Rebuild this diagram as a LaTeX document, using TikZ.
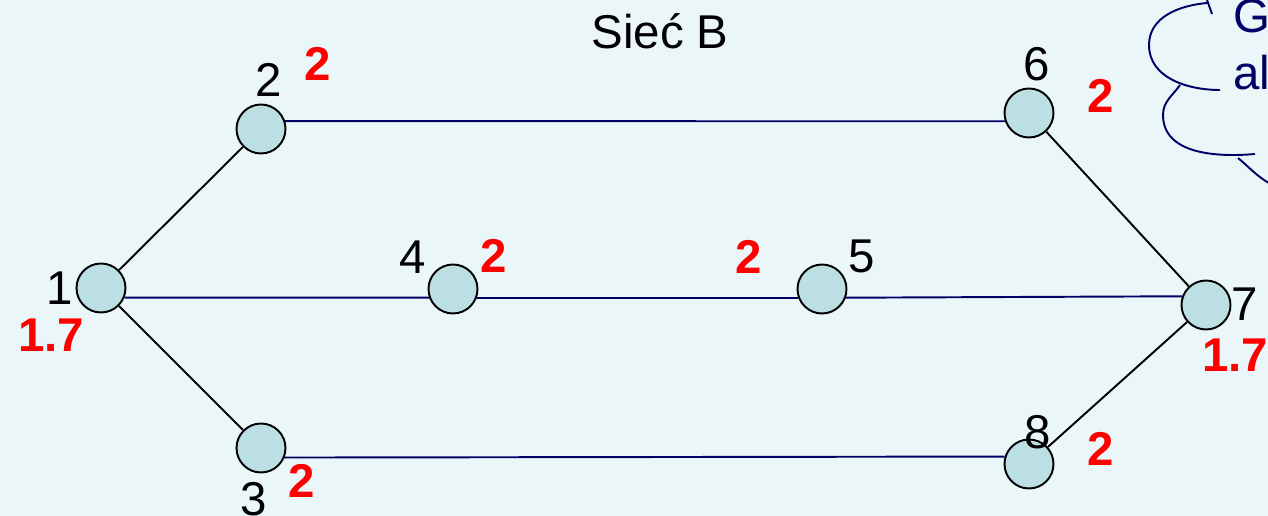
\documentclass[tikz,border=0pt]{standalone}
\usepackage{fontspec}
\setmainfont{Liberation Sans}
\definecolor{bgcol}{RGB}{234,246,247}
\definecolor{nodefill}{RGB}{187,223,227}
\definecolor{navy}{RGB}{0,0,102}
\begin{document}
\begin{tikzpicture}
        [x=0.02cm, y=-0.02cm,
        node/.style={circle,draw,minimum size=0.98cm, inner sep=0pt, line width=1.1pt, fill=nodefill},
        num/.style={inner sep=0pt, font=\fontsize{27}{31}\selectfont},
        wgt/.style={inner sep=0pt, text=red, font=\fontsize{27}{31}\selectfont\bfseries}]
        \useasboundingbox (0,0) rectangle (1268,516);
        \clip (0,0) rectangle (1268,516);
        \fill[bgcol] (0,0) rectangle (1268,516);

        \node[num, anchor=base] (title) at (660,49) {Sieć B};

        \node[node] (n1) at (101,288) {};
        \node[node] (n2) at (261,129) {};
        \node[node] (n3) at (261,448) {};
        \node[node] (n4) at (453,289) {};
        \node[node] (n5) at (822,289) {};
        \node[node] (n6) at (1029,113) {};
        \node[node] (n7) at (1206,305) {};
        \node[node] (n8) at (1029,464) {};

        % vertex numbers
        \node[num] (l1) at (60,288) {1};
        \node[num] (l2) at (269,80) {2};
        \node[num] (l3) at (254,499) {3};
        \node[num] (l4) at (413,257) {4};
        \node[num] (l5) at (862,256) {5};
        \node[num] (l6) at (1037,64) {6};
        \node[num] (l7) at (1245,304) {7};
        \node[num] (l8) at (1038,432) {8};

        % weights
        \node[wgt] (w1) at (51,335) {1.7};
        \node[wgt] (w2) at (318,64) {2};
        \node[wgt] (w3) at (302,481) {2};
        \node[wgt] (w4) at (494,256) {2};
        \node[wgt] (w5) at (749,257) {2};
        \node[wgt] (w6) at (1101,96) {2};
        \node[wgt] (w7) at (1235,355) {1.7};
        \node[wgt] (w8) at (1101,449) {2};

        \draw[line width=1.1pt] (n1) -- (n2);
        \draw[line width=1.1pt] (n1) -- (n3);
        \draw[line width=1.1pt] (n6) -- (n7);
        \draw[line width=1.1pt] (n8) -- (n7);

        \draw[line width=1.1pt, navy] (n2.18) -- (n6.199);
        \draw[line width=1.1pt, navy] (n3.-22) -- (n8.163);
        \draw[line width=1.1pt, navy] (n1.-22) -- (n4.-160);
        \draw[line width=1.1pt, navy] (n4.-20) -- (n5.-160);
        \draw[line width=1.1pt, navy] (n5.-20) -- (n7.160);

        % callout cloud, cut by the edge
        \draw[line width=1.1pt, navy] (1207,0) -- (1212,14);
        \draw[line width=1.1pt, navy] (1207,3) to[out=185,in=90] (1149,45) to[out=-90,in=180] (1220,90);
        \draw[line width=1.1pt, navy] (1180,85) to[out=-125,in=90] (1163,115) to[out=-90,in=185] (1255,154);
        \draw[line width=1.1pt, navy] (1238,158) to[out=-40,in=160] (1280,188);
        \node[num, anchor=base west, text=navy] (cloudA) at (1233,33) {G};
        \node[num, anchor=base west, text=navy] (cloudB) at (1233,90) {al};
    \end{tikzpicture}
\end{document}
